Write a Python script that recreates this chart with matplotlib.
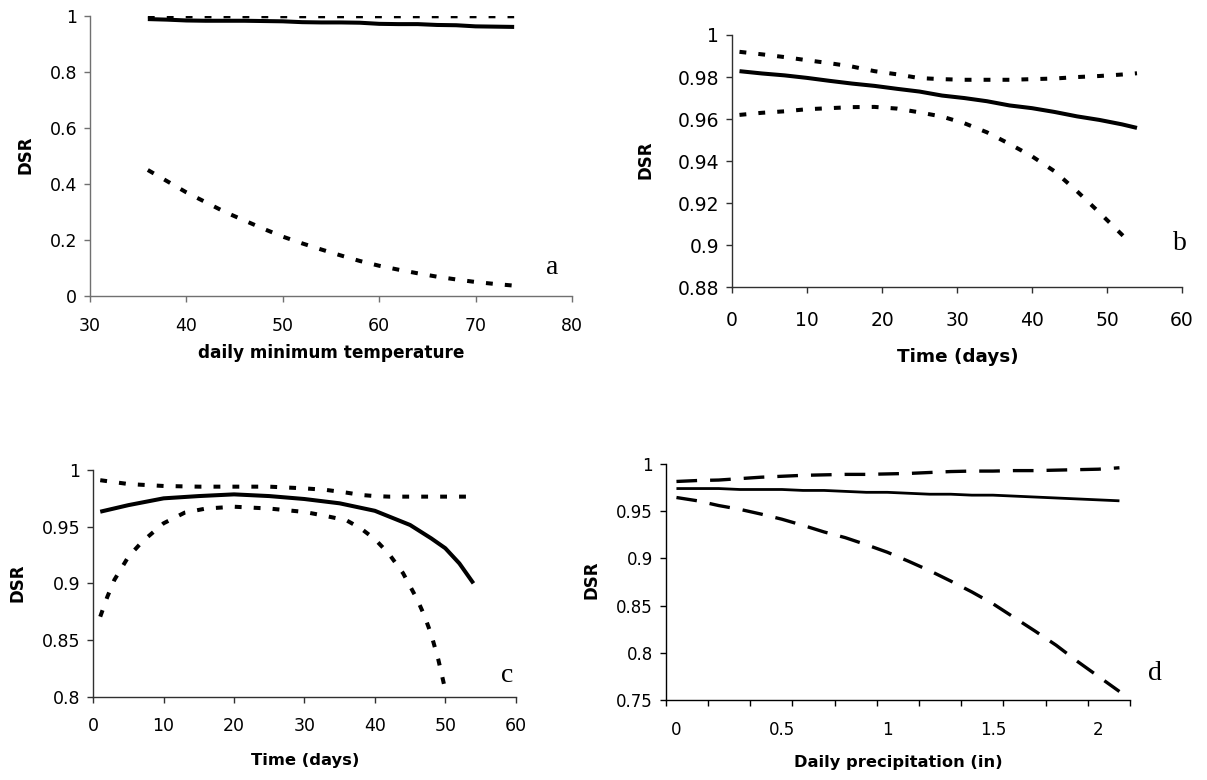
import numpy as np
import matplotlib
matplotlib.use("Agg")
import matplotlib.pyplot as plt
from matplotlib.ticker import FuncFormatter

plt.rcParams['font.family'] = ['DejaVu Sans']

# ---------------- data ----------------
# panel a: DSR vs daily minimum temperature
a_x = [36, 38, 40, 42, 44, 46, 48, 50, 52, 54, 56, 58, 60, 62, 64, 66, 68, 70, 72, 74]
a_mid = [0.989, 0.987, 0.984, 0.983, 0.983, 0.983, 0.982, 0.981, 0.978, 0.977, 0.977,
         0.976, 0.972, 0.971, 0.971, 0.968, 0.967, 0.963, 0.962, 0.961]
a_hi = [0.998, 0.999, 0.999, 0.999, 0.999, 0.999, 0.999, 0.999, 0.999, 0.999, 0.999,
        0.999, 0.999, 0.999, 0.999, 0.999, 0.999, 0.999, 0.999, 0.999]
a_lo = [0.45, 0.41, 0.37, 0.335, 0.30, 0.27, 0.24, 0.212, 0.188, 0.166, 0.145,
        0.125, 0.108, 0.094, 0.081, 0.069, 0.059, 0.050, 0.043, 0.037]

# panel b: DSR vs time (days)
b_x = [1, 4, 7, 10, 13, 16, 19, 22, 25, 28, 31, 34, 37, 40, 43, 46, 49, 52, 54]
b_mid = [0.9828, 0.9817, 0.9808, 0.9796, 0.9782, 0.9769, 0.9758, 0.9744, 0.9731, 0.9712,
         0.9700, 0.9685, 0.9665, 0.9652, 0.9634, 0.9613, 0.9596, 0.9575, 0.9558]
b_hi = [0.9920, 0.9908, 0.9895, 0.9880, 0.9866, 0.9850, 0.9828, 0.9813, 0.9795, 0.9790,
        0.9787, 0.9787, 0.9787, 0.9790, 0.9793, 0.9800, 0.9805, 0.9812, 0.9818]
b_lo_x = [1, 4, 7, 10, 13, 16, 19, 22, 25, 28, 31, 34, 37, 40, 43, 46, 49, 52, 53]
b_lo = [0.9620, 0.9630, 0.9637, 0.9647, 0.9652, 0.9657, 0.9658, 0.9650, 0.9632, 0.9612,
        0.9580, 0.9537, 0.9482, 0.9423, 0.9352, 0.9257, 0.9155, 0.9050, 0.9015]

# panel c: DSR vs time (days)
c_x = [1, 5, 10, 15, 20, 25, 30, 35, 40, 45, 48, 50, 52, 54]
c_mid = [0.9632, 0.969, 0.975, 0.977, 0.9785, 0.977, 0.9744, 0.9706, 0.964, 0.9515,
         0.9397, 0.931, 0.9176, 0.900]
c_hi_x = [1, 5, 10, 15, 20, 25, 30, 33, 36, 38, 40, 42, 45, 50, 54]
c_hi = [0.991, 0.9876, 0.9859, 0.9853, 0.9853, 0.9853, 0.9838, 0.9825, 0.980, 0.978,
        0.977, 0.9765, 0.9765, 0.9765, 0.9765]
c_lo_x = [1, 2, 3, 5, 7, 10, 13, 16, 20, 25, 30, 33, 36, 38, 40, 42, 44, 46, 47, 48, 49, 50]
c_lo = [0.8706, 0.888, 0.903, 0.9235, 0.937, 0.953, 0.9624, 0.966, 0.9676, 0.966, 0.963,
        0.9595, 0.9555, 0.9485, 0.939, 0.926, 0.909, 0.886, 0.872, 0.855, 0.833, 0.806]

# panel d: DSR vs daily precipitation (category axis 0 .. 2.1)
d_x = [0.0, 0.1, 0.2, 0.3, 0.4, 0.5, 0.6, 0.7, 0.8, 0.9, 1.0,
       1.1, 1.2, 1.3, 1.4, 1.5, 1.6, 1.7, 1.8, 1.9, 2.0, 2.1]
d_mid = [0.974, 0.974, 0.974, 0.973, 0.973, 0.973, 0.972, 0.972, 0.971, 0.970, 0.970,
         0.969, 0.968, 0.968, 0.967, 0.967, 0.966, 0.965, 0.964, 0.963, 0.962, 0.961]
d_hi = [0.9815, 0.9825, 0.983, 0.9845, 0.986, 0.987, 0.988, 0.9885, 0.989, 0.989, 0.9895,
        0.990, 0.991, 0.992, 0.9925, 0.9925, 0.993, 0.993, 0.9935, 0.994, 0.9945, 0.996]
d_lo = [0.9645, 0.961, 0.956, 0.952, 0.947, 0.9415, 0.935, 0.928, 0.922, 0.9145, 0.9065,
        0.897, 0.887, 0.876, 0.8645, 0.852, 0.8375, 0.823, 0.808, 0.791, 0.775, 0.759]

# ---------------- figure ----------------
W, H = 1207, 780
fig = plt.figure(figsize=(W / 100, H / 100), dpi=100)


def rect(x0, y0, x1, y1):
    return [x0 / W, 1 - y1 / H, (x1 - x0) / W, (y1 - y0) / H]


DOT = (0, (1.7, 3.0))
gfmt = FuncFormatter(lambda v, p: ('%g' % round(v, 4)))


def style(ax, spine_col, fs, xpad):
    for s in ['top', 'right']:
        ax.spines[s].set_visible(False)
    for s in ['left', 'bottom']:
        ax.spines[s].set_color(spine_col)
        ax.spines[s].set_linewidth(1.0)
    ax.tick_params(axis='both', which='both', direction='out', color=spine_col,
                   width=1.0, length=4.2, labelsize=fs)
    ax.tick_params(axis='x', pad=xpad)
    ax.tick_params(axis='y', pad=5)
    ax.yaxis.set_major_formatter(gfmt)
    ax.xaxis.set_major_formatter(gfmt)


def ftext(x, y, s, **kw):
    fig.text(x / W, 1 - y / H, s, **kw)


# panel a
ax = fig.add_axes(rect(90, 16, 572, 296))
ax.plot(a_x, a_mid, color='black', lw=2.9, solid_capstyle='butt')
ax.plot(a_x, a_hi, color='black', lw=2.9, linestyle=DOT)
ax.plot(a_x, a_lo, color='black', lw=2.9, linestyle=DOT)
ax.set_xlim(30, 80)
ax.set_ylim(0, 1)
ax.set_xticks([30, 40, 50, 60, 70, 80])
ax.set_yticks([0, 0.2, 0.4, 0.6, 0.8, 1.0])
style(ax, '#707070', 12.5, 11)

# panel b
ax = fig.add_axes(rect(732, 35, 1182, 287.3))
ax.plot(b_x, b_mid, color='black', lw=2.9, solid_capstyle='butt')
ax.plot(b_x, b_hi, color='black', lw=2.9, linestyle=DOT)
ax.plot(b_lo_x, b_lo, color='black', lw=2.9, linestyle=DOT)
ax.set_xlim(0, 60)
ax.set_ylim(0.88, 1)
ax.set_xticks([0, 10, 20, 30, 40, 50, 60])
ax.set_yticks([0.88, 0.90, 0.92, 0.94, 0.96, 0.98, 1.0])
style(ax, '#303030', 13.5, 13)

# panel c
ax = fig.add_axes(rect(93.2, 470, 515.7, 696.7))
ax.plot(c_x, c_mid, color='black', lw=2.9, solid_capstyle='butt')
ax.plot(c_hi_x, c_hi, color='black', lw=2.9, linestyle=DOT)
ax.plot(c_lo_x, c_lo, color='black', lw=2.9, linestyle=DOT)
ax.set_xlim(0, 60)
ax.set_ylim(0.8, 1)
ax.set_xticks([0, 10, 20, 30, 40, 50, 60])
ax.set_yticks([0.8, 0.85, 0.9, 0.95, 1.0])
style(ax, '#303030', 12.5, 10.5)

# panel d
ax = fig.add_axes(rect(665.9, 464, 1130, 700))
ax.plot(d_x, d_mid, color='black', lw=2.0, solid_capstyle='butt')
ax.plot(d_x, d_hi, color='black', lw=2.4, linestyle=(0, (6.2, 3.9)))
ax.plot(d_x, d_lo, color='black', lw=2.4, linestyle=(0, (6.2, 3.9)))
ax.set_xlim(-0.05, 2.15)
ax.set_ylim(0.75, 1)
ax.set_yticks([0.75, 0.8, 0.85, 0.9, 0.95, 1.0])
ax.set_xticks([0, 0.5, 1.0, 1.5, 2.0])
ax.set_xticks([-0.05 + 0.2 * k for k in range(12)], minor=True)
style(ax, 'black', 12, 15)
ax.tick_params(axis='x', which='major', length=0, pad=15)
ax.tick_params(axis='x', which='minor', length=4.3)

# axis labels
ftext(331, 353, 'daily minimum temperature', ha='center', va='center',
      fontsize=12.2, fontweight='bold')
ftext(958, 357, 'Time (days)', ha='center', va='center', fontsize=13.2, fontweight='bold')
ftext(305, 760, 'Time (days)', ha='center', va='center', fontsize=11.8, fontweight='bold')
ftext(898, 762, 'Daily precipitation (in)', ha='center', va='center',
      fontsize=11.7, fontweight='bold')
for (x, y) in [(25, 155), (646, 160), (17, 583), (592, 580)]:
    ftext(x, y, 'DSR', ha='center', va='center', rotation=90,
          fontsize=12, fontweight='bold')

# panel letters
for (x, y, s) in [(552, 268, 'a'), (1180, 243, 'b'), (507, 675, 'c'), (1155, 673, 'd')]:
    ftext(x, y, s, ha='center', va='center', fontsize=20, family='Liberation Serif')

fig.savefig('out.png', dpi=100)
